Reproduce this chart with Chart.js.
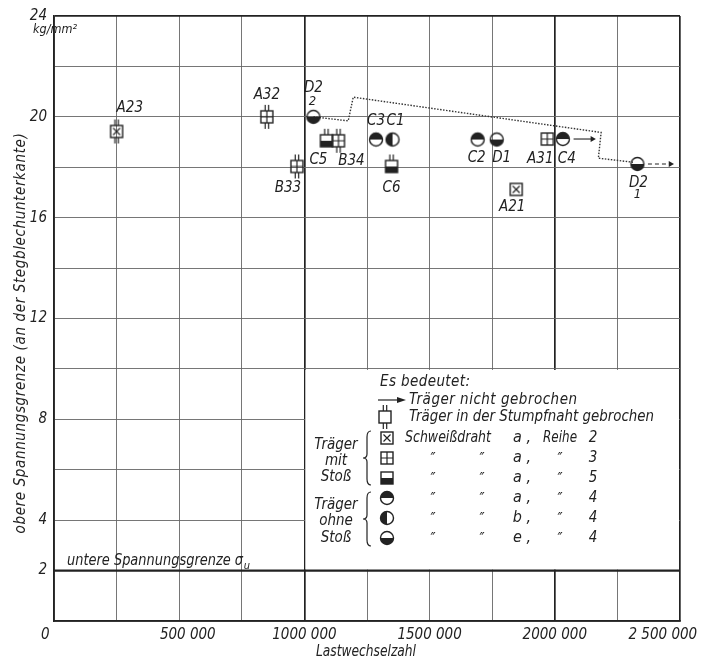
<!DOCTYPE html>
<html><head><meta charset="utf-8">
<script src="https://cdn.jsdelivr.net/npm/chart.js@4.4.1/dist/chart.umd.min.js"></script>
<style>html,body{margin:0;padding:0;background:#fff}#wrap{width:708px;height:662px}</style>
</head><body><div id="wrap"><canvas id="c" width="708" height="662"></canvas></div>
<script>
// ---------- data ----------
const specimenNames = ['A23','A32','D2','C5','B34','B33','C3','C1','C6','C2','D1','A31','C4','A21','D2'];
const specimenSub   = ['','','2','','','','','','','','','','','','1'];
const loadCycles    = [250000, 850000, 1036000, 1088000, 1136000, 970000, 1286000, 1352000, 1348000, 1692000, 1768000, 1970000, 2032000, 1846000, 2330000];
const upperStress   = [19.42, 20.0, 20.0, 19.05, 19.05, 18.03, 19.1, 19.1, 18.03, 19.1, 19.1, 19.12, 19.12, 17.12, 18.13];
const symbolType    = ['sqX','sqPlus','cBottom','sqHalf','sqPlus','sqPlus','cTop','cLeft','sqHalf','cTop','cBottom','sqPlus','cTop','sqX','cBottom'];
const weldTicks     = ['both','both','none','top','both','both','none','none','top','none','none','none','none','none','none'];

const pathCycles = [1036000, 1175000, 1195000, 2185000, 2174000, 2312000];
const pathStress = [20.0, 19.84, 20.78, 19.38, 18.36, 18.2];

const arrowC4Cycles = [2075000, 2150000];
const arrowC4Stress = [19.12, 19.12];
const arrowD2Cycles = [2372000, 2462000];
const arrowD2Stress = [18.13, 18.13];

const lowerLimitCycles = [0, 2500000];
const lowerLimitStress = [2, 2];

const legendBoxCycles = [1000000, 2500000];
const legendBoxStress = [2, 10];

const xTickLabels = {0:'0\u2007\u2007', 500000:'\u2007\u2007500 000', 1000000:'1000 000', 1500000:'1500 000', 2000000:'2000 000', 2500000:'2 500 000\u2007\u2007\u2007\u2007'};
const yTickLabels = [2, 4, 8, 12, 16, 20, 24];

// ---------- styling / layout ----------
const INK = '#222';
const GRID = '#666';
const FAM = '"DejaVu Sans Condensed", "DejaVu Sans", sans-serif';
// label placement: [dx, dy] in pixels relative to point
const labelPlacement = [[12,-23],[0,-22],[0,-29],[-8,19],[13,20],[-9,22],[0,-18],[3,-18],[0,22],[-1,19],[5,19],[-7,20],[4,20],[-4,18],[1,19]];

function makeMarker(type, ticks){
  const c = document.createElement('canvas');
  c.width = 24; c.height = 34;
  const g = c.getContext('2d');
  const cx = 12, cy = 17;
  g.strokeStyle = INK; g.fillStyle = INK; g.lineWidth = 1.4;
  if (type.startsWith('sq')) {
    const s = 12, h = s/2;
    if (type === 'sqHalf') g.fillRect(cx-h, cy, s, h);
    g.strokeRect(cx-h, cy-h, s, s);
    g.beginPath();
    if (type === 'sqX') { g.moveTo(cx-h+2.5, cy-h+2.5); g.lineTo(cx+h-2.5, cy+h-2.5); g.moveTo(cx+h-2.5, cy-h+2.5); g.lineTo(cx-h+2.5, cy+h-2.5); }
    if (type === 'sqPlus') { g.moveTo(cx, cy-h); g.lineTo(cx, cy+h); g.moveTo(cx-h, cy); g.lineTo(cx+h, cy); }
    if (ticks === 'both' || ticks === 'top') { g.moveTo(cx-1.7, cy-h); g.lineTo(cx-1.7, cy-h-6); g.moveTo(cx+1.7, cy-h); g.lineTo(cx+1.7, cy-h-6); }
    if (ticks === 'both') { g.moveTo(cx-1.7, cy+h); g.lineTo(cx-1.7, cy+h+6); g.moveTo(cx+1.7, cy+h); g.lineTo(cx+1.7, cy+h+6); }
    g.lineWidth = 1.2; g.stroke();
  } else {
    const r = 6.5;
    g.beginPath();
    if (type === 'cTop') g.arc(cx, cy, r, Math.PI, 2*Math.PI);
    if (type === 'cBottom') g.arc(cx, cy, r, 0, Math.PI);
    if (type === 'cLeft') g.arc(cx, cy, r, Math.PI/2, 3*Math.PI/2);
    g.closePath(); g.fill();
    g.beginPath(); g.arc(cx, cy, r, 0, 2*Math.PI); g.stroke();
  }
  return c;
}
const markerCache = {};
function marker(type, ticks){ const k = type+'_'+ticks; if(!markerCache[k]) markerCache[k] = makeMarker(type, ticks); return markerCache[k]; }

function spacedText(ctx, text, x, y, target, align){
  ctx.save();
  ctx.letterSpacing = '0px';
  const w = ctx.measureText(text).width;
  if (target) {
    const n = Math.max(1, text.length - 1);
    const ls = (target - w) / n;
    if (ls > 0) ctx.letterSpacing = ls.toFixed(2) + 'px';
    else { ctx.translate(x, y); ctx.scale(target/w, 1); x = 0; y = 0; }
  }
  ctx.textAlign = align || 'left';
  ctx.fillText(text, x, y);
  ctx.restore();
}

const legendBoxPlugin = {
  id: 'legendBox',
  beforeDatasetsDraw(chart){
    const {ctx, scales:{x, y}} = chart;
    const l = x.getPixelForValue(legendBoxCycles[0]), r = x.getPixelForValue(legendBoxCycles[1]);
    const t = y.getPixelForValue(legendBoxStress[1]), b = y.getPixelForValue(legendBoxStress[0]);
    ctx.save(); ctx.fillStyle = '#fff';
    ctx.fillRect(l+1, t+1, r-l-2, b-t-2);
    ctx.restore();
  }
};

const textPlugin = {
  id: 'texts',
  afterDraw(chart){
    const {ctx, scales:{x, y}} = chart;
    ctx.save();
    ctx.fillStyle = INK; ctx.strokeStyle = INK;
    ctx.textBaseline = 'middle';
    // point labels
    const LF = 'italic 15px ' + FAM;
    ctx.font = LF;
    specimenNames.forEach((n, i) => {
      const px = x.getPixelForValue(loadCycles[i]) + labelPlacement[i][0];
      const py = y.getPixelForValue(upperStress[i]) + labelPlacement[i][1];
      ctx.textAlign = (i === 0) ? 'left' : 'center';
      ctx.fillText(n, (i === 0) ? px - 12 : px, py);
      if (specimenSub[i]) {
        ctx.font = 'italic 13px ' + FAM;
        ctx.fillText(specimenSub[i], px - 1, py + (labelPlacement[i][1] < 0 ? 14 : 12));
        ctx.font = LF;
      }
    });
    // unit
    ctx.font = 'italic 13px ' + FAM;
    spacedText(ctx, 'kg/mm²', 33, 30, 44, 'left');
    // y title
    ctx.save();
    ctx.translate(21, 333); ctx.rotate(-Math.PI/2);
    ctx.font = 'italic 15px ' + FAM;
    spacedText(ctx, 'obere Spannungsgrenze (an der Stegblechunterkante)', 0, 0, 400, 'center');
    ctx.restore();
    // lower limit text
    ctx.font = 'italic 15px ' + FAM;
    spacedText(ctx, 'untere Spannungsgrenze σ', 67, 561, 176, 'left');
    ctx.font = 'italic 11px ' + FAM;
    ctx.fillText('u', 247, 566);
    // legend
    ctx.font = 'italic 15px ' + FAM;
    spacedText(ctx, 'Es bedeutet:', 380, 382, 90, 'left');
    // arrow
    ctx.lineWidth = 1.2;
    ctx.beginPath(); ctx.moveTo(378, 400); ctx.lineTo(400, 400); ctx.stroke();
    ctx.beginPath(); ctx.moveTo(406, 400); ctx.lineTo(397, 397); ctx.lineTo(397, 403); ctx.closePath(); ctx.fill();
    spacedText(ctx, 'Träger nicht gebrochen', 409, 400, 168, 'left');
    ctx.drawImage(marker('sq', 'both'), 385-12, 417-17);
    spacedText(ctx, 'Träger in der Stumpfnaht gebrochen', 409, 417, 245, 'left');
    const rows = [438, 458, 478, 498, 518, 538];
    const rowSym = ['sqX','sqPlus','sqHalf','cTop','cLeft','cBottom'];
    const rowWire = ['a ,','a ,','a ,','a ,','b ,','e ,'];
    const rowSeries = ['2','3','5','4','4','4'];
    rows.forEach((ry, k) => {
      ctx.drawImage(marker(rowSym[k], 'none'), 387-12, ry-17);
      ctx.font = 'italic 15px ' + FAM;
      if (k === 0) {
        spacedText(ctx, 'Schweißdraht', 405, ry, 86, 'left');
        spacedText(ctx, 'Reihe', 560, ry, 34, 'center');
      } else {
        ctx.textAlign = 'center';
        ctx.fillText('″', 433, ry + 2);
        ctx.fillText('″', 482, ry + 2);
        ctx.fillText('″', 560, ry + 2);
      }
      ctx.textAlign = 'center';
      ctx.font = 'italic 16px ' + FAM;
      ctx.fillText(rowWire[k], 522, ry);
      ctx.font = 'italic 15px ' + FAM;
      ctx.fillText(rowSeries[k], 593, ry);
    });
    // group labels + braces
    ctx.textAlign = 'center';
    ctx.font = 'italic 15px ' + FAM;
    ['Träger','mit','Stoß'].forEach((s, k) => ctx.fillText(s, 336, 445 + k*16));
    ['Träger','ohne','Stoß'].forEach((s, k) => ctx.fillText(s, 336, 505 + k*16.5));
    function brace(bx, y1, y2){
      const ym = (y1 + y2) / 2;
      ctx.beginPath();
      ctx.moveTo(bx+4, y1); ctx.quadraticCurveTo(bx, y1, bx, y1+6);
      ctx.lineTo(bx, ym-4); ctx.quadraticCurveTo(bx, ym, bx-4, ym);
      ctx.quadraticCurveTo(bx, ym, bx, ym+4);
      ctx.lineTo(bx, y2-6); ctx.quadraticCurveTo(bx, y2, bx+4, y2);
      ctx.lineWidth = 1.2; ctx.stroke();
    }
    brace(367, 431, 485);
    brace(367, 492, 546);
    // x axis title
    ctx.textAlign = 'center';
    ctx.font = 'italic 15px ' + FAM;
    spacedText(ctx, 'Lastwechselzahl', 366, 652, 100, 'center');
    ctx.restore();
  }
};

const pointsData = loadCycles.map((v, i) => ({x: v, y: upperStress[i]}));
const toXY = (xs, ys) => xs.map((v, i) => ({x: v, y: ys[i]}));

new Chart(document.getElementById('c'), {
  type: 'scatter',
  data: {
    datasets: [
      {
        data: pointsData,
        pointStyle: (ctx) => marker(symbolType[ctx.dataIndex], weldTicks[ctx.dataIndex]),
        pointRadius: 6, showLine: false
      },
      {
        type: 'line', data: toXY(arrowC4Cycles, arrowC4Stress),
        borderColor: INK, borderWidth: 1.1, backgroundColor: INK,
        pointRadius: [0, 3.5], pointStyle: 'triangle', pointRotation: 90, pointBorderWidth: 0
      },
      {
        type: 'line', data: toXY(arrowD2Cycles, arrowD2Stress),
        borderColor: INK, borderWidth: 1.1, borderDash: [4, 3], backgroundColor: INK,
        pointRadius: [0, 3.5], pointStyle: 'triangle', pointRotation: 90, pointBorderWidth: 0
      },
      {
        type: 'line', data: toXY(pathCycles, pathStress),
        borderColor: '#333', borderWidth: 1.4, borderDash: [1.5, 1.5], pointRadius: 0
      },
      {
        type: 'line', data: toXY(lowerLimitCycles, lowerLimitStress),
        borderColor: INK, borderWidth: 2.4, pointRadius: 0
      }
    ]
  },
  options: {
    responsive: false, animation: false, devicePixelRatio: 1,
    layout: { padding: { left: 0, top: 16, right: 28, bottom: 0 } },
    plugins: { legend: { display: false }, tooltip: { enabled: false } },
    scales: {
      x: {
        type: 'linear', min: 0, max: 2500000,
        afterFit: (s) => { s.height = 41; s.paddingRight = 0; s.paddingLeft = 0; },
        border: { display: true, color: INK, width: 1.8 },
        grid: {
          drawTicks: false,
          color: (c) => { const v = c.tick && c.tick.value; return (v === 1000000 || v === 2000000 || v === 2500000) ? INK : GRID; },
          lineWidth: (c) => { const v = c.tick && c.tick.value; return (v === 1000000 || v === 2000000 || v === 2500000) ? 1.7 : 0.9; }
        },
        ticks: {
          stepSize: 250000, autoSkip: false, maxRotation: 0, padding: 5,
          color: INK, font: { family: FAM, size: 15, style: 'italic' },
          callback: (v) => (xTickLabels[v] !== undefined ? xTickLabels[v] : '')
        }
      },
      y: {
        type: 'linear', min: 0, max: 24,
        afterFit: (s) => { s.width = 54; s.paddingTop = 0; s.paddingBottom = 0; },
        border: { display: true, color: INK, width: 1.8 },
        grid: {
          drawTicks: false,
          color: (c) => { const v = c.tick && c.tick.value; return (v === 24) ? INK : GRID; },
          lineWidth: (c) => { const v = c.tick && c.tick.value; return (v === 24) ? 1.7 : 0.9; }
        },
        ticks: {
          stepSize: 2, autoSkip: false, padding: 7,
          color: INK, font: { family: FAM, size: 15, style: 'italic' },
          callback: (v) => (yTickLabels.includes(v) ? String(v) : '')
        }
      }
    }
  },
  plugins: [legendBoxPlugin, textPlugin]
});
</script>
</body></html>
